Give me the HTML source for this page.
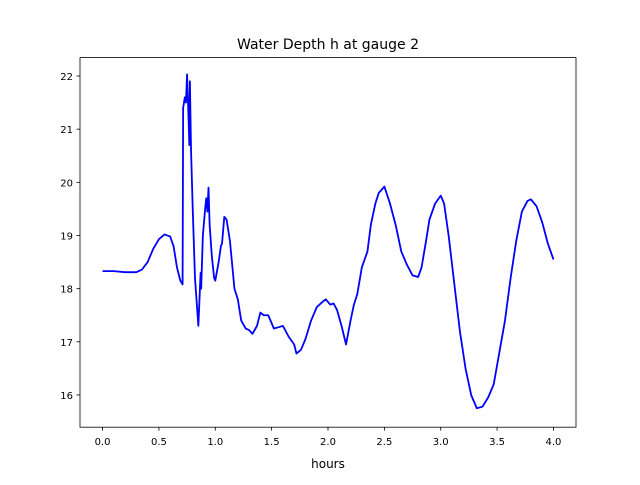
<!DOCTYPE html>
<html><head><meta charset="utf-8"><style>
body{margin:0;background:#fff}
svg text{font-family:"DejaVu Sans","Liberation Sans",sans-serif;fill:#000}
</style></head><body>
<svg id="chart" width="640" height="480" xmlns="http://www.w3.org/2000/svg">
<rect width="640" height="480" fill="#fff"/>
<text x="328" y="49" font-size="14" text-anchor="middle">Water Depth h at gauge 2</text>
<text x="328" y="468" font-size="12" text-anchor="middle">hours</text>
<g id="ticks"></g>
<path id="line" fill="none" stroke="#0000ff" stroke-width="1.8" stroke-linejoin="round"/>
<rect x="80" y="57.6" width="496" height="369.6" fill="none" stroke="#000" stroke-width="0.8"/>
</svg>
<script>
const hours=[0,0.1,0.2,0.3,0.35,0.4,0.45,0.5,0.55,0.6,0.63,0.66,0.69,0.71,0.715,0.73,0.74,0.75,0.76,0.77,0.775,0.785,0.8,0.82,0.85,0.87,0.875,0.89,0.91,0.92,0.93,0.94,0.95,0.97,0.99,1.0,1.03,1.05,1.06,1.08,1.1,1.13,1.17,1.2,1.23,1.27,1.3,1.33,1.37,1.4,1.43,1.47,1.52,1.57,1.6,1.65,1.7,1.72,1.76,1.8,1.85,1.9,1.95,1.98,2.02,2.05,2.08,2.12,2.16,2.2,2.23,2.26,2.3,2.35,2.38,2.42,2.45,2.5,2.55,2.6,2.65,2.7,2.75,2.8,2.83,2.87,2.9,2.95,3.0,3.03,3.07,3.12,3.17,3.22,3.27,3.32,3.37,3.42,3.47,3.52,3.57,3.62,3.67,3.72,3.77,3.8,3.85,3.9,3.95,4.0];
const depth=[18.33,18.33,18.31,18.31,18.36,18.5,18.75,18.93,19.02,18.98,18.8,18.4,18.15,18.08,21.4,21.6,21.5,22.03,21.4,20.7,21.9,20.6,19.5,18.2,17.3,18.3,18.0,19.0,19.5,19.7,19.45,19.9,19.2,18.6,18.2,18.15,18.5,18.8,18.85,19.35,19.3,18.9,18.0,17.8,17.4,17.25,17.22,17.15,17.3,17.55,17.5,17.5,17.25,17.28,17.3,17.1,16.95,16.78,16.85,17.05,17.4,17.65,17.75,17.8,17.7,17.72,17.6,17.3,16.95,17.4,17.7,17.9,18.4,18.7,19.2,19.6,19.8,19.92,19.6,19.2,18.7,18.45,18.25,18.22,18.4,18.9,19.3,19.6,19.75,19.6,19.0,18.1,17.2,16.5,16.0,15.75,15.78,15.95,16.2,16.8,17.4,18.2,18.9,19.45,19.65,19.68,19.55,19.25,18.85,18.55];
const xTicks=[0,0.5,1,1.5,2,2.5,3,3.5,4];
const yTicks=[16,17,18,19,20,21,22];
const sx=v=>80+(v+0.2)/4.4*496;
const sy=v=>427.2-(v-15.394)/(22.346-15.394)*369.6;
const NS="http://www.w3.org/2000/svg";
const g=document.getElementById('ticks');
function mk(t,a){const e=document.createElementNS(NS,t);for(const k in a)e.setAttribute(k,a[k]);g.appendChild(e);return e;}
xTicks.forEach(v=>{
 const l=mk('line',{x1:sx(v),x2:sx(v),y1:427.2,y2:430.7,stroke:'#000','stroke-width':0.8});
 
 
 const t=mk('text',{x:sx(v),y:445,'font-size':10,'text-anchor':'middle'});
 t.textContent=v.toFixed(1);
 
 
});
yTicks.forEach(v=>{
 const l=mk('line',{x1:76.5,x2:80,y1:sy(v),y2:sy(v),stroke:'#000','stroke-width':0.8});
 
 
 const t=mk('text',{x:73,y:sy(v)+4,'font-size':10,'text-anchor':'end'});
 t.textContent=String(v);
 
 
});
document.getElementById('line').setAttribute('d',hours.map((h,i)=>(i?'L':'M')+sx(h).toFixed(2)+','+sy(depth[i]).toFixed(2)).join(''));
</script>
</body></html>
